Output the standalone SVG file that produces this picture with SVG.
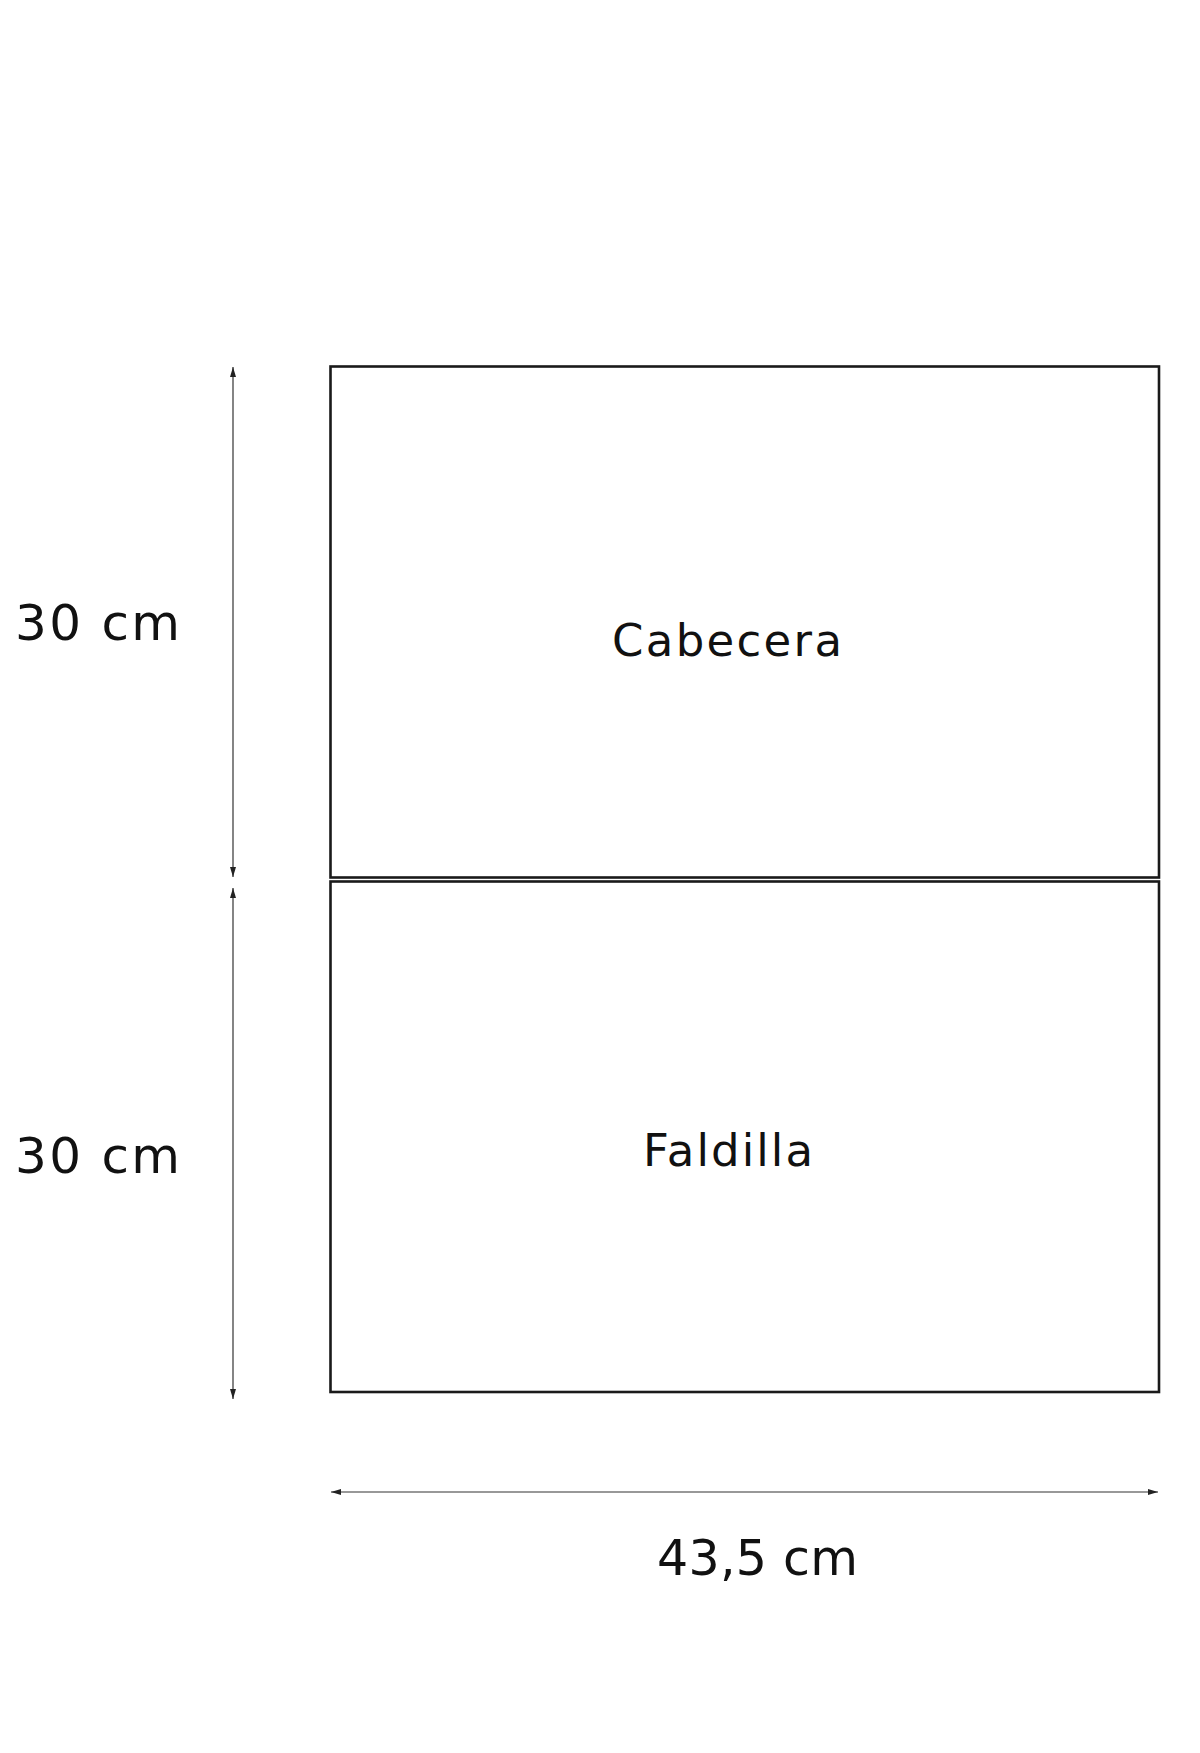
<svg xmlns="http://www.w3.org/2000/svg" width="1200" height="1753" viewBox="0 0 1200 1753">
<style>
.box{fill:none;stroke:#1a1a1a;stroke-width:2.6}
.dim{stroke:#333;stroke-width:1.2;fill:none}
.lbl{font-family:"DejaVu Sans","Liberation Sans",sans-serif;fill:#111}
</style>
<defs>
<marker id="ah" viewBox="0 0 10 6" refX="10" refY="3" markerWidth="10" markerHeight="6" markerUnits="userSpaceOnUse" orient="auto-start-reverse">
<path d="M0,0 L10,3 L0,6 Z" fill="#222"/>
</marker>
</defs>
<rect width="1200" height="1753" fill="#fff"/>
<g id="cabecera">
<rect class="box" x="330.5" y="366.5" width="828.5" height="511"/>
<text class="lbl" x="727" y="656" font-size="45" text-anchor="middle" textLength="230" lengthAdjust="spacing">Cabecera</text>
</g>
<g id="faldilla">
<rect class="box" x="330.5" y="881.5" width="828.5" height="510.5"/>
<text class="lbl" x="728" y="1166" font-size="45" text-anchor="middle" textLength="170" lengthAdjust="spacing">Faldilla</text>
</g>
<g id="connectors">
<line class="dim" x1="233" y1="877" x2="233" y2="367" marker-start="url(#ah)" marker-end="url(#ah)"/>
<line class="dim" x1="233" y1="888" x2="233" y2="1399" marker-start="url(#ah)" marker-end="url(#ah)"/>
<line class="dim" x1="331" y1="1492" x2="1158" y2="1492" marker-start="url(#ah)" marker-end="url(#ah)"/>
</g>
<g id="labels">
<text class="lbl" x="15" y="640" font-size="50" textLength="165" lengthAdjust="spacing">30 cm</text>
<text class="lbl" x="15" y="1173" font-size="50" textLength="165" lengthAdjust="spacing">30 cm</text>
<text class="lbl" x="657" y="1575" font-size="49" textLength="201" lengthAdjust="spacing">43,5 cm</text>
</g>
</svg>
